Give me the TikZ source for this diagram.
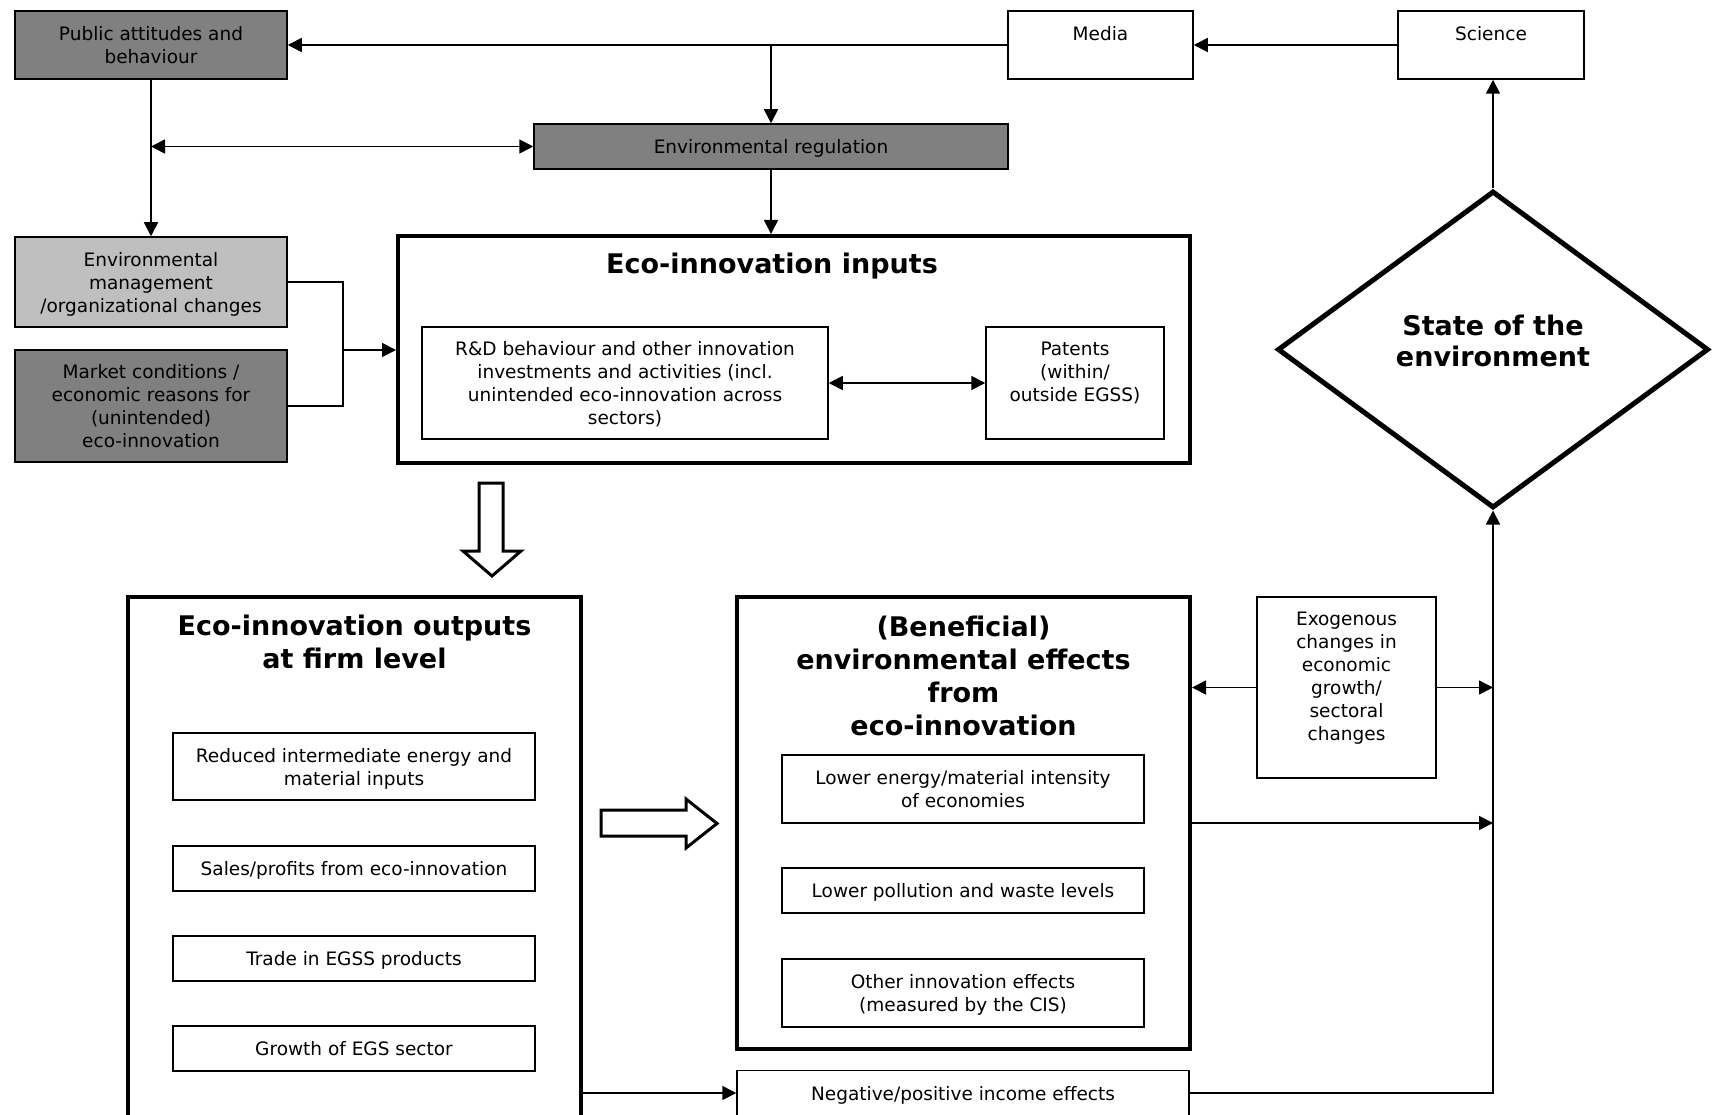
\documentclass[tikz,border=0pt]{standalone}
\usepackage{fontspec}
\setmainfont{DejaVu Sans}
\usepackage{xcolor}
\definecolor{drk}{rgb}{0.50, 0.50, 0.50}
\definecolor{lgt}{rgb}{0.75, 0.75, 0.75}
\usepackage{tikz}
\usetikzlibrary{arrows.meta,shapes.geometric}

\begin{document}
\begin{tikzpicture}[x=1pt,y=-1pt,
  box/.style={draw,line width=1.5pt,inner sep=0pt,text depth=0pt,align=center,font=\fontsize{18.5}{23}\selectfont},
  bigbox/.style={draw,line width=4pt,inner sep=0pt},
  ttl/.style={align=center,inner sep=0pt,font=\fontsize{27}{33}\selectfont\bfseries},
  conn/.style={line width=1.6pt,-{Triangle[length=14pt,width=14pt]}},
  conn2/.style={line width=1.6pt,{Triangle[length=14pt,width=14pt]}-{Triangle[length=14pt,width=14pt]}},
  hollow/.style={line width=3pt,line join=miter,fill=white}]
  \path[use as bounding box,clip] (0,0) rectangle (1718,1115);

  %% top row
  \node[box,fill=drk,minimum width=272pt,minimum height=68pt] (pub) at (151,45) {Public attitudes and\\behaviour};
  \node[box,minimum width=185pt,minimum height=68pt] (media) at (1100.5,45) {Media\\\mbox{}};
  \node[box,minimum width=186pt,minimum height=68pt] (sci) at (1491,45) {Science\\\mbox{}};
  \node[box,fill=drk,minimum width=474pt,minimum height=45pt] (reg) at (771,146.5) {Environmental regulation};

  %% drivers on the left
  \node[box,fill=lgt,minimum width=272pt,minimum height=90pt] (mgmt) at (151,282) {Environmental\\management\\/organizational changes};
  \node[box,fill=drk,minimum width=272pt,minimum height=112pt] (mkt) at (151,406) {Market conditions /\\economic reasons for\\(unintended)\\eco-innovation};

  %% inputs
  \node[bigbox,minimum width=792pt,minimum height=227pt] (inp) at (794,349.5) {};
  \node[ttl] (inpt) at (772,266) {Eco-innovation inputs};
  \node[box,minimum width=406pt,minimum height=112pt] (rd) at (625,383) {R\&D behaviour and other innovation\\investments and activities (incl.\\unintended eco-innovation across\\sectors)};
  \node[box,minimum width=178pt,minimum height=112pt] (pat) at (1075,383) {Patents\\(within/\\outside EGSS)\\\mbox{}};

  \node[draw,diamond,aspect=1.36,line width=5pt,minimum width=431pt,minimum height=317pt] (state) at (1493,349.5) {};
  \node[ttl,font=\fontsize{27}{31}\selectfont\bfseries] (statet) at (1493,341) {State of the\\environment};

  %% outputs
  \node[bigbox,minimum width=453pt,minimum height=543pt] (out) at (354.5,868.5) {};
  \node[ttl] (outt) at (354.5,642) {Eco-innovation outputs\\at firm level};
  \node[box,minimum width=362pt,minimum height=67pt] (red) at (354,766.5) {Reduced intermediate energy and\\material inputs};
  \node[box,minimum width=362pt,minimum height=45pt] (sales) at (354,868.5) {Sales/profits from eco-innovation};
  \node[box,minimum width=362pt,minimum height=45pt] (trade) at (354,958.5) {Trade in EGSS products};
  \node[box,minimum width=362pt,minimum height=45pt] (egs) at (354,1048.5) {Growth of EGS sector};

  %% effects
  \node[bigbox,minimum width=453pt,minimum height=452pt] (eff) at (963.5,823) {};
  \node[ttl] (efft) at (963.5,675.5) {(Beneficial)\\environmental effects\\from\\eco-innovation};
  \node[box,minimum width=362pt,minimum height=68pt] (energy) at (963,789) {Lower energy/material intensity\\of economies};
  \node[box,minimum width=362pt,minimum height=45pt] (poll) at (963,890.5) {Lower pollution and waste levels};
  \node[box,minimum width=362pt,minimum height=68pt] (other) at (963,993) {Other innovation effects\\(measured by the CIS)};

  \node[box,minimum width=179pt,minimum height=181pt] (exo) at (1346.5,687.5) {Exogenous\\changes in\\economic\\growth/\\sectoral\\changes\\\mbox{}};
  \node[box,minimum width=452pt,minimum height=45pt] (inc) at (963,1093) {Negative/positive income effects};

  %% connectors
  \coordinate (jn) at (343,350);
  \draw[conn] (media.west) -- (pub.east);
  \draw[conn] (sci.west) -- (media.east);
  \draw[conn] (reg.north |- media.west) -- (reg.north);
  \draw[conn] (pub.south) -- (mgmt.north);
  \draw[conn2] (pub.south |- reg.west) -- (reg.west);
  \draw[conn] (reg.south) -- (reg.south |- inp.north);
  \draw[line width=1.6pt] (mgmt.east) -| (jn) |- (mkt.east);
  \draw[conn] (jn) -- (jn -| inp.west);
  \draw[conn2] (rd.east) -- (pat.west);
  \draw[conn] (state.north) -- (state.north |- sci.south);

  \draw[conn] (inc.east) -| (state.south);
  \draw[conn] (exo.west) -- (exo.west -| eff.east);
  \draw[conn] (exo.east) -- (exo.east -| state.south);
  \draw[conn] (eff.east) -- (eff.east -| state.south);
  \draw[conn] (out.east |- inc.west) -- (inc.west);

  % block arrows
  \draw[hollow] (479,483) -- (503,483) -- (503,551) -- (521,551) -- (492,576) -- (463,551) -- (479,551) -- cycle;
  \draw[hollow] (601,810) -- (686,810) -- (686,799) -- (717,823.5) -- (686,848) -- (686,836) -- (601,836) -- cycle;
\end{tikzpicture}
\end{document}
